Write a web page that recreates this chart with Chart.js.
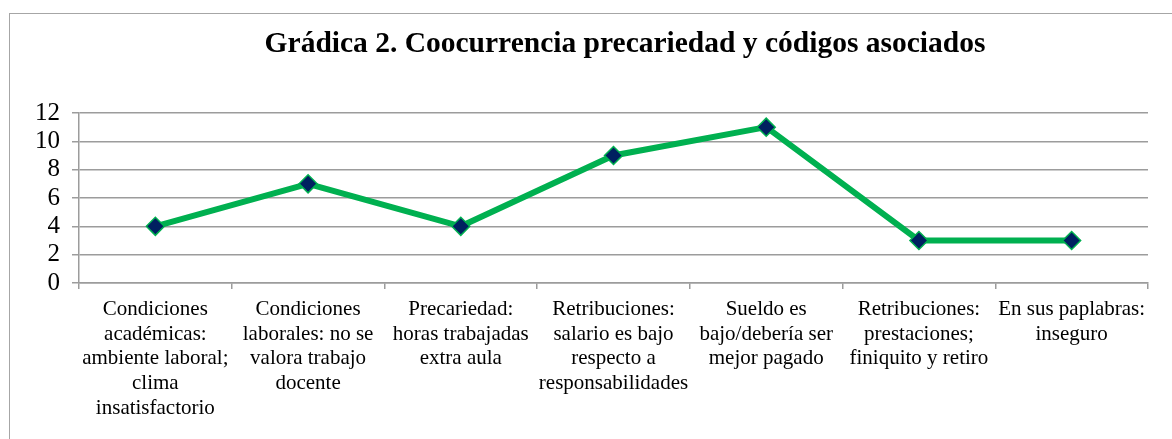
<!DOCTYPE html>
<html>
<head>
<meta charset="utf-8">
<script src="https://cdn.jsdelivr.net/npm/chart.js@4"></script>
<style>
  body { margin: 0; background: #fff; overflow: hidden; }
  #wrap { position: relative; width: 1172px; height: 439px; }
  #frame {
    position: absolute; left: 9px; top: 13px; width: 1200px; height: 500px;
    border-left: 1.5px solid #a6a6a6; border-top: 1.5px solid #a6a6a6;
  }
  canvas { position: absolute; left: 0; top: 0; }
</style>
</head>
<body>
<div id="wrap">
  <div id="frame"></div>
  <canvas id="chart" width="1172" height="439"></canvas>
</div>
<script>
// Chart data
const chartTitle = 'Grádica 2. Coocurrencia precariedad y códigos asociados';

const categories = [
    ['Condiciones', 'académicas:', 'ambiente laboral;', 'clima', 'insatisfactorio'],
    ['Condiciones', 'laborales: no se', 'valora trabajo', 'docente'],
    ['Precariedad:', 'horas trabajadas', 'extra aula'],
    ['Retribuciones:', 'salario es bajo', 'respecto a', 'responsabilidades'],
    ['Sueldo es', 'bajo/debería ser', 'mejor pagado'],
    ['Retribuciones:', 'prestaciones;', 'finiquito y retiro'],
    ['En sus paplabras:', 'inseguro']
];

const counts = [4, 7, 4, 9, 11, 3, 3];

const yTicks = [0, 2, 4, 6, 8, 10, 12];

const gridColor = '#9c9c9c';
const serif = "'Liberation Serif', 'Times New Roman', serif";

// title drawn by hand so it can sit where the original puts it
const titlePlugin = {
    id: 'sheetTitle',
    afterDraw(chart) {
        const c = chart.ctx;
        c.save();
        c.font = 'bold 29.5px ' + serif;
        c.fillStyle = '#000';
        c.textAlign = 'center';
        c.textBaseline = 'middle';
        c.fillText(chartTitle, 625, 44);
        c.restore();
    }
};

const ctx = document.getElementById('chart').getContext('2d');

new Chart(ctx, {
    type: 'line',
    data: {
        labels: categories,
        datasets: [{
            data: counts,
            borderColor: '#00B050',
            borderWidth: 6,
            tension: 0,
            fill: false,
            pointStyle: 'rectRot',
            pointRadius: 9,
            pointBackgroundColor: '#002060',
            pointBorderColor: '#00B050',
            pointBorderWidth: 1.5
        }]
    },
    options: {
        responsive: false,
        animation: false,
        devicePixelRatio: 1,
        layout: { padding: { top: 113, right: 24, bottom: 0, left: 0 } },
        plugins: {
            legend: { display: false },
            tooltip: { enabled: false },
            title: { display: false }
        },
        scales: {
            x: {
                offset: true,
                grid: {
                    offset: true,
                    drawOnChartArea: false,
                    drawTicks: true,
                    tickLength: 6,
                    color: gridColor,
                    lineWidth: 1.5
                },
                border: { display: true, color: gridColor, width: 1.5 },
                ticks: {
                    autoSkip: false,
                    maxRotation: 0,
                    minRotation: 0,
                    padding: 8.5,
                    color: '#000',
                    font: { family: serif, size: 21, lineHeight: 1.17 }
                },
                afterFit: (scale) => { scale.height = 156; }
            },
            y: {
                min: 0,
                max: 12,
                afterBuildTicks: (scale) => {
                    scale.ticks = yTicks.map(v => ({ value: v }));
                },
                grid: {
                    color: gridColor,
                    lineWidth: 1.5,
                    tickLength: 7
                },
                border: { display: true, color: gridColor, width: 1.5 },
                ticks: {
                    autoSkip: false,
                    padding: 12,
                    color: '#000',
                    font: { family: serif, size: 25, lineHeight: 1 }
                },
                afterFit: (scale) => { scale.width = 79; }
            }
        }
    },
    plugins: [titlePlugin]
});
</script>
</body>
</html>
